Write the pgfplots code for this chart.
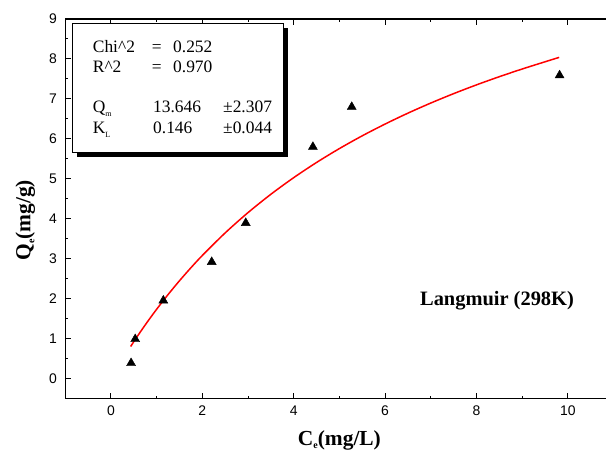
\documentclass[border=0pt]{standalone}
\usepackage{pgfplots}
\pgfplotsset{compat=1.18}
\usepackage{fontspec}
\setmainfont{Liberation Serif}
\newfontfamily\sansf{Liberation Sans}
\begin{document}
\begin{tikzpicture}
\useasboundingbox (-65.3bp,-53.3bp) rectangle (540.7bp,398.7bp);
\clip (-65.3bp,-53.3bp) rectangle (540.7bp,398.7bp);
\begin{axis}[
  at={(0,0)}, anchor=south west,
  scale only axis, width=548.2bp, height=379.7bp,
  xmin=-1, xmax=11, ymin=-0.5, ymax=9,
  xtick={0,2,...,10}, minor xtick={1,3,...,9},
  ytick={0,1,...,9}, minor ytick={0.5,1.5,...,8.5},
  tick align=inside,
  major tick length=6bp, minor tick length=3bp,
  every tick/.style={black, line width=1bp},
  axis line style={black, line width=1.3bp},
  /pgf/number format/assume math mode=true,
  tick label style={font=\sansf\fontsize{14}{16}\selectfont},
  xticklabel style={yshift=-4bp},
  yticklabel style={xshift=-5bp},
  xlabel={\textbf{C\raisebox{-3.5bp}{\fontsize{10}{10}\selectfont e}(mg/L)}},
  ylabel={\textbf{Q\raisebox{-4bp}{\fontsize{10}{10}\selectfont e}(mg/g)}},
  xlabel style={font=\fontsize{21.5}{24}\selectfont, at={(axis description cs:0.5,0)}, anchor=base, yshift=-46.5bp},
  ylabel style={font=\fontsize{21.5}{24}\selectfont, at={(axis description cs:-0.073,0.47)}, anchor=center, rotate=0},
  clip=false,
]
\addplot[red, line width=1.5bp, smooth, mark=none] coordinates {
 (0.43,0.8061) (0.6,1.0991) (0.8,1.4272) (1.0,1.7385) (1.25,2.1061)
 (1.5,2.4516) (1.75,2.7770) (2.0,3.0841) (2.5,3.6490) (3.0,4.1565)
 (3.5,4.6149) (4.0,5.0311) (4.5,5.4107) (5.0,5.7582) (5.5,6.0775)
 (6.0,6.3720) (6.5,6.6445) (7.0,6.8973) (7.5,7.1324) (8.0,7.3517)
 (8.5,7.5567) (9.0,7.7489) (9.5,7.9292) (9.81,8.0400)
};
\addplot[only marks, mark=triangle*, mark size=5.2bp, black, mark options={fill=black}] coordinates {
 (0.44,0.39) (0.53,0.99) (1.146,1.955) (2.205,2.92) (2.95,3.895)
 (4.42,5.80) (5.27,6.80) (9.82,7.59)
};
\node[font=\bfseries\fontsize{20.5}{24}\selectfont, anchor=base] at (axis cs:8.45,1.82) {Langmuir (298K)};
\end{axis}
% statistics box with shadow
\fill[black] (11.7bp,241.7bp) rectangle (222.7bp,370.7bp);
\filldraw[fill=white, draw=black, line width=0.8bp] (6.7bp,246.7bp) rectangle (217.7bp,375.7bp);
\begin{scope}[every node/.style={anchor=base west, inner sep=0pt, font=\fontsize{17.5}{20}\selectfont}]
\node at (27.4bp,345.7bp) {Chi\textasciicircum 2};
\node at (86.4bp,345.7bp) {=};
\node at (107.7bp,345.7bp) {0.252};
\node at (27.4bp,325.7bp) {R\textasciicircum 2};
\node at (86.4bp,325.7bp) {=};
\node at (107.7bp,325.7bp) {0.970};
\node at (27.4bp,285.7bp) {Q\raisebox{-4bp}{\fontsize{8}{8}\selectfont m}};
\node at (87.7bp,285.7bp) {13.646};
\node at (157.7bp,285.7bp) {±2.307};
\node at (27.4bp,264.7bp) {K\raisebox{-4bp}{\fontsize{8}{8}\selectfont L}};
\node at (87.7bp,264.7bp) {0.146};
\node at (157.7bp,264.7bp) {±0.044};
\end{scope}
\end{tikzpicture}
\end{document}
